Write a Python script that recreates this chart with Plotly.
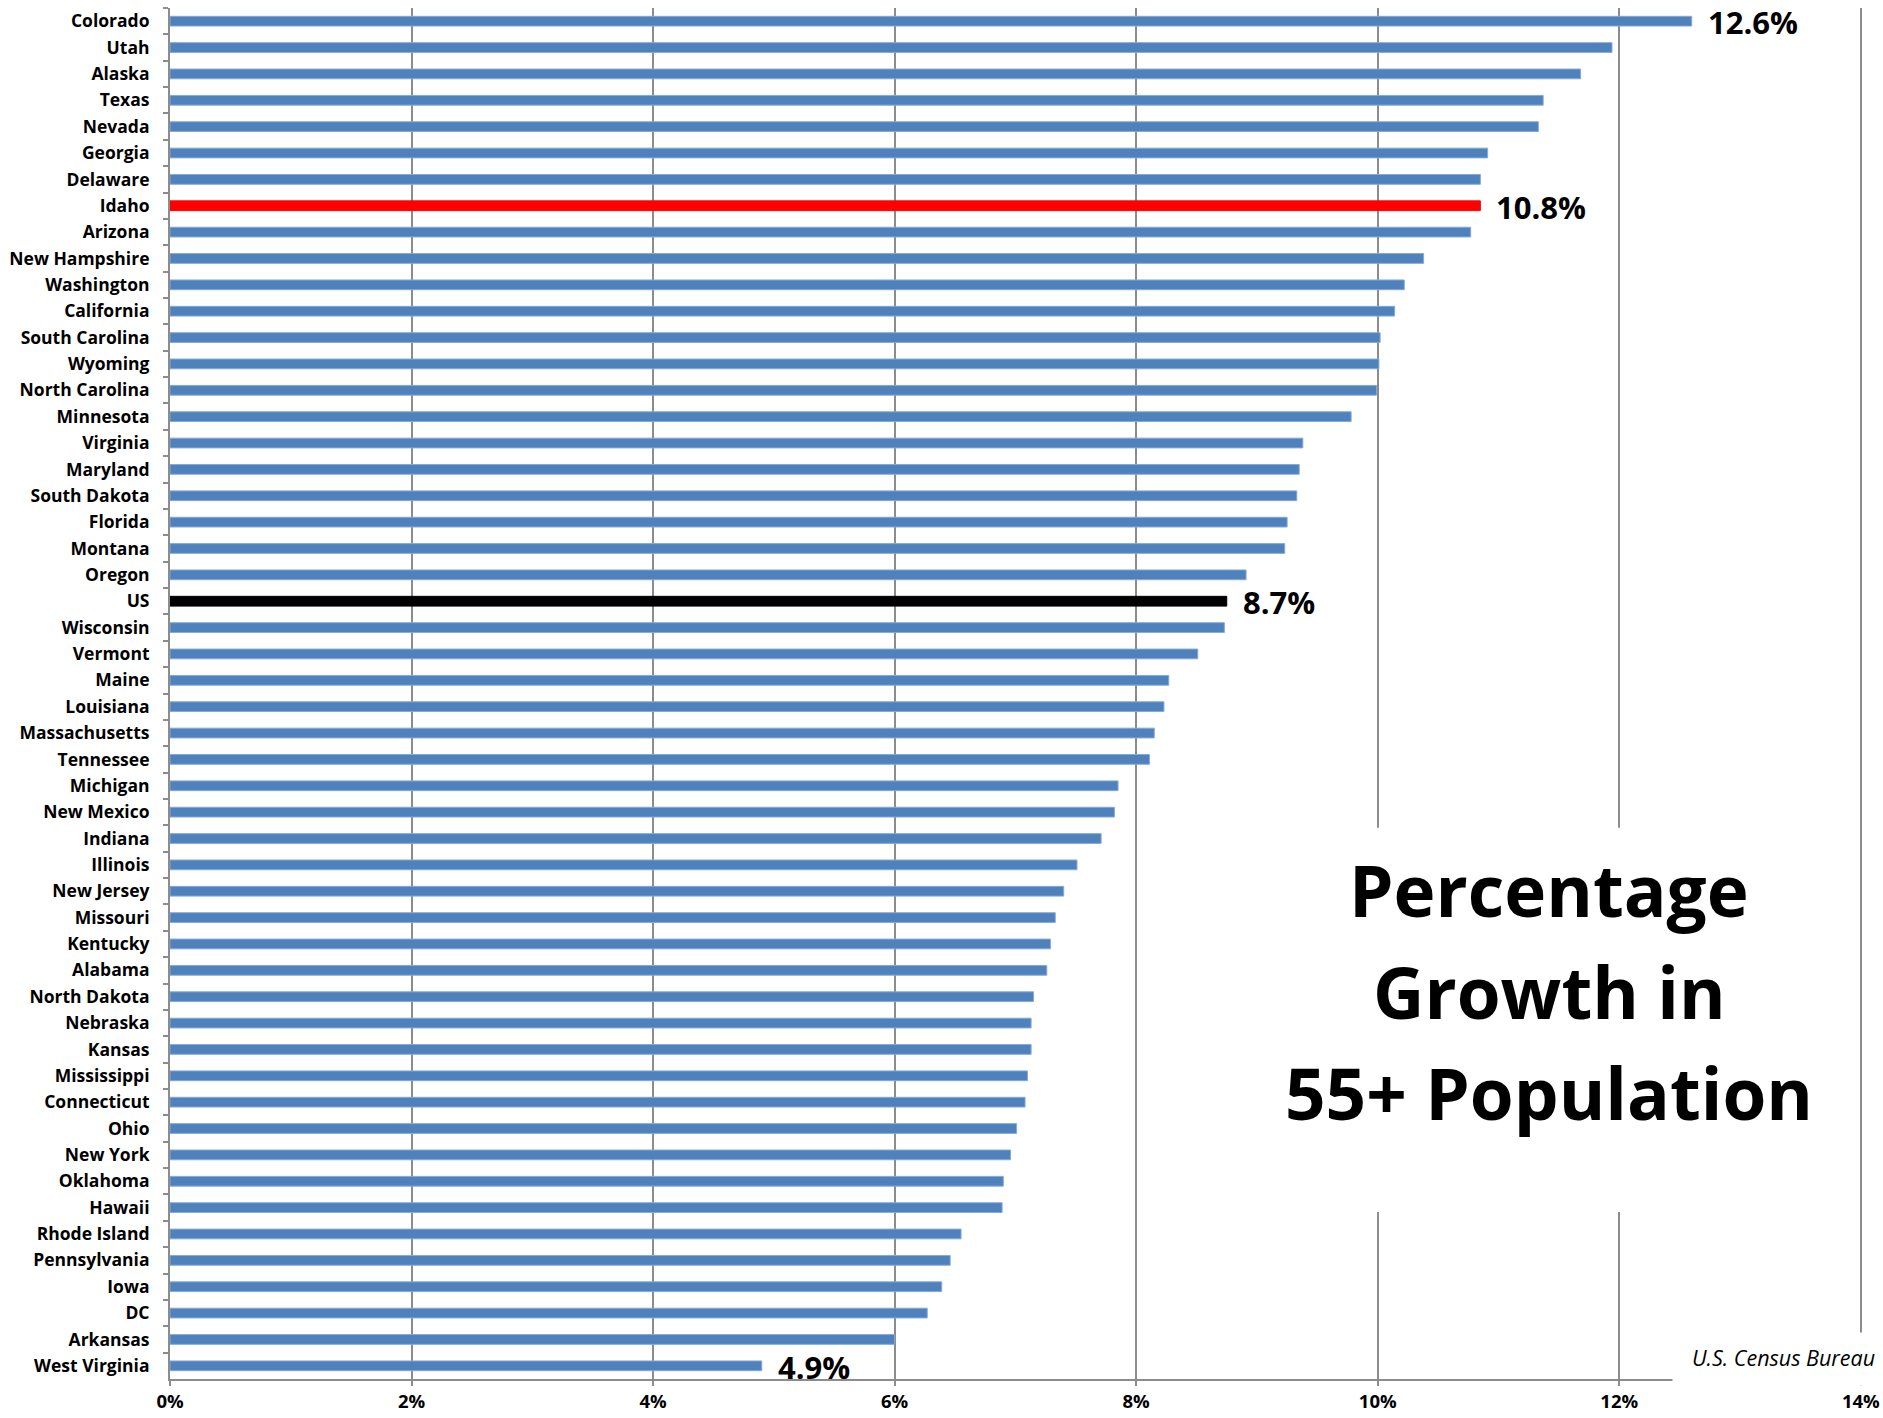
import plotly.graph_objects as go

states = ["Colorado", "Utah", "Alaska", "Texas", "Nevada", "Georgia", "Delaware", "Idaho",
          "Arizona", "New Hampshire", "Washington", "California", "South Carolina", "Wyoming",
          "North Carolina", "Minnesota", "Virginia", "Maryland", "South Dakota", "Florida",
          "Montana", "Oregon", "US", "Wisconsin", "Vermont", "Maine", "Louisiana",
          "Massachusetts", "Tennessee", "Michigan", "New Mexico", "Indiana", "Illinois",
          "New Jersey", "Missouri", "Kentucky", "Alabama", "North Dakota", "Nebraska", "Kansas",
          "Mississippi", "Connecticut", "Ohio", "New York", "Oklahoma", "Hawaii", "Rhode Island",
          "Pennsylvania", "Iowa", "DC", "Arkansas", "West Virginia"]

growth = [12.60, 11.94, 11.68, 11.37, 11.33, 10.91, 10.85, 10.85, 10.77, 10.38, 10.22, 10.14,
          10.02, 10.01, 9.99, 9.78, 9.38, 9.35, 9.33, 9.25, 9.23, 8.91, 8.75, 8.73, 8.51, 8.27,
          8.23, 8.15, 8.11, 7.85, 7.82, 7.71, 7.51, 7.40, 7.33, 7.29, 7.26, 7.15, 7.13, 7.13,
          7.10, 7.08, 7.01, 6.96, 6.90, 6.89, 6.55, 6.46, 6.39, 6.27, 6.00, 4.90]

highlight_colors = {"Idaho": "#FF0000", "US": "#000000"}
labels = {"Colorado": "12.6%", "Idaho": "10.8%", "US": "8.7%", "West Virginia": "4.9%"}

x_ticks = [0, 2, 4, 6, 8, 10, 12, 14]
x_tick_text = ["0%", "2%", "4%", "6%", "8%", "10%", "12%", "14%"]

title_lines = ["Percentage", "Growth in", "55+ Population"]
source_text = "U.S. Census Bureau"

BLUE = "#4F81BD"
colors = [highlight_colors.get(s, BLUE) for s in states]
line_colors = [highlight_colors.get(s, "#86a9d6") for s in states]

fig = go.Figure()
fig.add_trace(go.Bar(
    x=growth, y=states, orientation="h",
    marker=dict(color=colors, line=dict(color=line_colors, width=1)),
    width=0.37, showlegend=False, hoverinfo="x+y",
))

GRID = "#8c8c8c"
fig.update_layout(
    width=1883, height=1418,
    margin=dict(l=170, r=21, t=8, b=39, autoexpand=False),
    paper_bgcolor="white", plot_bgcolor="white",
    font=dict(family="Open Sans", color="black"),
    hovermode="closest",
)
fig.update_xaxes(
    range=[0, 14.01], tickvals=x_ticks, ticktext=x_tick_text, automargin=False,
    showgrid=True, gridcolor=GRID, gridwidth=1.5,
    showline=True, linecolor=GRID, linewidth=2,
    ticks="outside", ticklen=5, tickcolor=GRID, tickwidth=1.5,
    tickfont=dict(family="Open Sans", size=18.5, color="black", weight="bold"),
    ticklabeloverflow="allow", zeroline=False,
)
fig.update_yaxes(
    range=[len(states) - 0.5, -0.5], type="category", automargin=False,
    showline=True, linecolor=GRID, linewidth=2,
    ticks="outside", ticklen=5, tickcolor=GRID, tickwidth=1.5, tickson="boundaries",
    tickfont=dict(family="Open Sans", size=17.5, color="black", weight="bold"),
    ticklabelstandoff=15, showgrid=False,
)

for s, v in zip(states, growth):
    if s in labels:
        fig.add_annotation(x=v, y=s, text=labels[s], showarrow=False, xanchor="left",
                           xshift=14, yshift=-1,
                           font=dict(family="Open Sans", size=31, color="black", weight="bold"))

# white box behind title, hiding gridlines
fig.add_shape(type="rect", xref="x", yref="paper", x0=9.1, x1=13.85, y0=0.1218, y1=0.402,
              fillcolor="white", line=dict(width=0), layer="above")
for line, yp in zip(title_lines, [0.3572, 0.2828, 0.2091]):
    fig.add_annotation(xref="x", yref="paper", x=11.42, y=yp, text=line, showarrow=False,
                       xanchor="center", yanchor="middle",
                       font=dict(family="Open Sans", size=71, color="black", weight="bold"))

# source box
fig.add_shape(type="rect", xref="paper", yref="paper", x0=0.888, x1=1.02, y0=-0.005, y1=0.034,
              fillcolor="white", line=dict(width=0), layer="above")
fig.add_annotation(xref="paper", yref="paper", x=1.0089, y=0.0155, text=source_text, showarrow=False,
                   xanchor="right", yanchor="middle",
                   font=dict(family="Open Sans", size=21.5, color="black", style="italic"))

fig.write_html("out.html", config={"displayModeBar": False},
               post_script="document.body.style.margin='0';")
